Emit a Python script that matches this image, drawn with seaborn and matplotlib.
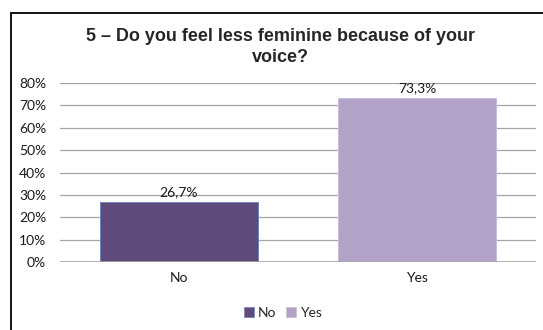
import matplotlib
matplotlib.use("Agg")
import matplotlib.pyplot as plt
from matplotlib.lines import Line2D
import seaborn as sns
import pandas as pd

# Survey answers
categories = ["No", "Yes"]
shares = [0.267, 0.733]
value_labels = ["26,7%", "73,3%"]
yticks = [0.0, 0.1, 0.2, 0.3, 0.4, 0.5, 0.6, 0.7, 0.8]
ytick_labels = ["0%", "10%", "20%", "30%", "40%", "50%", "60%", "70%", "80%"]
title = "5 – Do you feel less feminine because of your\nvoice?"

palette = {"No": "#604A7B", "Yes": "#B3A2C7"}
edges = {"No": "#6F84C0", "Yes": "#C9BCDD"}

sns.set_theme(style="white")
plt.rcParams["font.family"] = ["Lato", "DejaVu Sans"]

df = pd.DataFrame({"answer": categories, "share": shares})

fig = plt.figure(figsize=(5.43, 3.30), dpi=100)
ax = fig.add_axes([60 / 543, 1 - 262 / 330, 476 / 543, 179 / 330])

sns.barplot(data=df, x="answer", y="share", hue="answer", palette=palette,
            width=0.665, saturation=1, legend=False, ax=ax, zorder=3,
            linewidth=0.7)
for patch, c in zip(ax.patches, categories):
    patch.set_edgecolor(edges[c])

ax.set_ylim(0, 0.8)
ax.set_yticks(yticks)
ax.set_yticklabels(ytick_labels, fontsize=10, color="#1a1a1a")
ax.tick_params(axis="x", labelsize=10, colors="#1a1a1a", length=0, pad=7)
ax.tick_params(axis="y", length=0, pad=10)
ax.set_xlabel("")
ax.set_ylabel("")
ax.grid(axis="y", color="#A6A6A6", linewidth=0.9, zorder=0)
for s in ax.spines.values():
    s.set_visible(False)
ax.axhline(0, color="#A6A6A6", linewidth=1.2, zorder=4)

for patch, lab in zip(ax.patches, value_labels):
    ax.annotate(lab, (patch.get_x() + patch.get_width() / 2, patch.get_height()),
                xytext=(0, 3), textcoords="offset points", ha="center", va="bottom",
                fontsize=10, color="#1a1a1a")

fig.text(280 / 543, 1 - 47 / 330, title, ha="center", va="center",
         fontsize=13, fontweight="bold", family=["Liberation Sans", "DejaVu Sans"],
         linespacing=1.3)

handles = [Line2D([], [], marker="s", linestyle="", markersize=7.5,
                  markerfacecolor=palette[c], markeredgecolor=edges[c],
                  markeredgewidth=0.5) for c in categories]
fig.legend(handles, categories, loc="center", bbox_to_anchor=(282 / 543, 1 - 313 / 330),
           ncol=2, frameon=False, fontsize=10, handletextpad=0.1, columnspacing=0.6,
           handlelength=1.0)

# Chart frame (open on the right and bottom)
fx = 10.5 / 543
fy = 1 - 12.5 / 330
fig.add_artist(Line2D([fx, fx], [0, fy], color="black", linewidth=1.3, transform=fig.transFigure))
fig.add_artist(Line2D([fx, 1], [fy, fy], color="black", linewidth=1.3, transform=fig.transFigure))

fig.savefig("out.png", dpi=100)
